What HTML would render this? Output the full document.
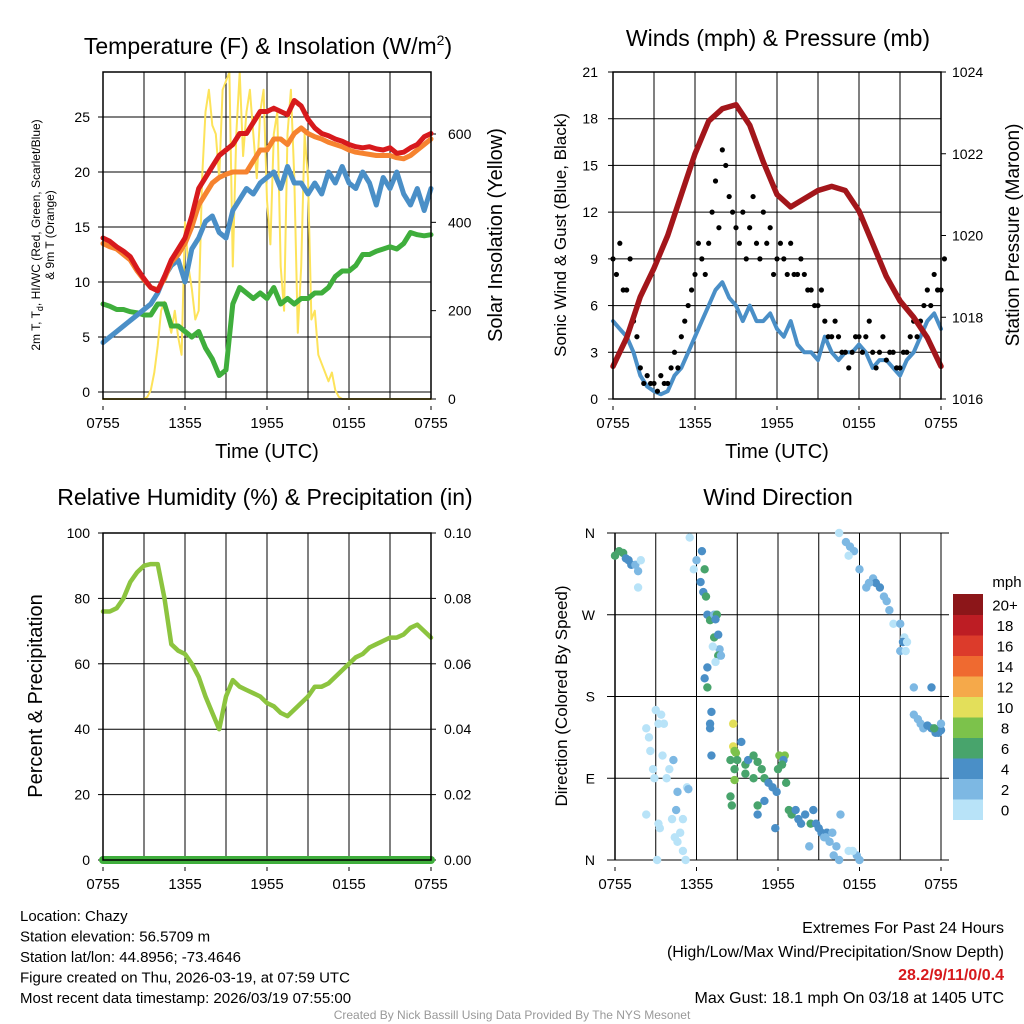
<!DOCTYPE html>
<html><head><meta charset="utf-8"><style>
body{margin:0;background:#fff;}
svg{display:block;font-family:"Liberation Sans",sans-serif;}
</style></head><body>
<svg id="c" width="1024" height="1024" viewBox="0 0 1024 1024" xmlns="http://www.w3.org/2000/svg">
<rect width="1024" height="1024" fill="#fff"/>
<g id="g"></g>
</svg>
<script>
// ---------- data (0.5 h steps from 0755 UTC unless noted) ----------
const timeLabels = ["0755","1355","1955","0155","0755"];
const tempRed = [14,13.7,13.2,12.8,12.3,11.2,10.3,9.5,9.2,10.5,12,13,14,16,18.5,19.5,20.5,21.5,22,22.5,23.5,23.5,24.5,25.5,25.5,25.8,25.5,25.2,26.5,26,24.8,24,23.5,23.3,23,22.8,22.5,22.3,22.2,22.3,22.1,22,22.2,21.7,21.8,22.2,22.5,23.2,23.5];
const tempOrange = [13.5,13.2,13,12.5,12,11,10.2,9.5,9.3,10.3,11.8,12.5,13.5,15,17,18,19,19.5,19.8,20,20,20,21,22,22,23,23,22.5,23.5,24,23.5,23.2,23,22.7,22.5,22.3,22,21.8,21.7,21.6,21.5,21.5,21.5,21.3,21.2,21.5,22,22.5,23];
const tempBlue = [4.5,5,5.5,6,6.5,7,7.5,8,9,10.5,11.5,12,10,13,14,15.5,16,14.5,14,16.5,17.5,18.5,18,19,19.5,20,18.5,20.5,19,19,18,19,18,20,19,20.5,19,18.5,20,19,17,19.5,18.5,20,18,17,18.5,16.5,18.5];
const tempGreen = [8,7.8,7.5,7.5,7.3,7.2,7,7,8,8,6,6,5.5,5,5.5,4,3,1.5,2,8,9.5,9,8.5,9,8.5,9.5,8,8.5,8,8.5,8.5,9,9,9.5,10.5,11,11,11.5,12.5,12.5,12.8,13,13.2,13,13.5,14.5,14.3,14.2,14.3];
// solar insolation, 0.25 h steps
const solar = [0,0,0,0,0,0,0,0,0,0,0,0,0,5,20,60,120,200,220,180,150,200,140,100,400,300,250,180,200,500,650,700,620,600,500,700,720,740,300,600,740,550,650,700,600,500,650,700,450,350,600,650,300,200,600,700,500,150,300,600,500,180,200,100,80,60,40,60,20,5,0,0,0,0,0,0,0,0,0,0,0,0,0,0,0,0,0,0,0,0,0,0,0,0,0,0,0];
// pressure, hourly
const pressure = [1016.8,1017.5,1018.5,1019.2,1020,1021,1022,1022.8,1023.1,1023.2,1022.7,1021.8,1021,1020.7,1020.9,1021.1,1021.2,1021.1,1020.6,1019.8,1019,1018.4,1018,1017.5,1016.8];
const windSpeed = [5,4.5,4,3,1.5,0.8,0.5,0.3,0.5,1.5,2,3,4,5,6,7,7.5,6.5,6,5,6,5,5,5.5,4.5,4,5,3.5,3,3,2.5,4,3,2.5,3,3,3.5,3,2,2.5,2.5,2,1.5,2.5,3,4,5,5.5,4.5];
const gustA = [9,10,7,5,2,1.5,1,1.5,1,3,4,6,8,9,10,14,16,13,11,12,11,10,12,11,9,9,10,8,8,7,6,5,4,4,3,3,4,4,3,3,2.5,3,2,3,5,5,7,8,7];
const gustB = [8,7,9,4,1,1,0.5,1,2,2,5,7,10,8,12,11,15,12,10,9,13,9,10,8,10,8,8,9,7,6,7,4,5,3,2,4,3,5,2,4,3,2,3,4,4,6,6,7,9];
const rh = [76,76,77,80,85,88,90,90.5,90.5,80,66,64,63,60,56,50,45,40,50,55,53,52,51,50,48,47,45,44,46,48,50,53,53,54,56,58,60,62,63,65,66,67,68,68,69,71,72,70,68];
const precip = [0,0,0,0,0,0,0,0,0,0,0,0,0,0,0,0,0,0,0,0,0,0,0,0,0];
// wind direction scatter: hours since 0755, degrees, speed bin
const dirTime = [0,0.3,0.6,0.8,1,1.2,1.5,1.7,1.7,1.9,2.3,2.5,2.6,2.8,2.9,3,3.2,3.4,3.6,3.5,2.3,3.8,4,4.3,3.1,3.2,3.3,4.2,4.4,4.6,5,5.2,4.8,5,4.5,4.6,5.3,5.4,5.5,6,6.4,5.8,6.6,6.3,6.5,6.7,6.8,7,7.3,7.5,7.4,7.3,7.6,7.7,7.2,7.6,7.4,7.8,6.8,6.6,6.8,7.1,7,7,7.1,8.7,8.7,8.8,8.9,9,9.3,8.5,8.8,8.8,8.5,8.6,9.6,9.8,10.2,10.5,10.8,9.6,10.2,10.5,11,11.3,11.6,11,10.5,11.8,11.9,12,12.1,12.5,12.4,12.3,12.6,12.8,13,13.3,13.5,13.7,14,14.4,14.6,14.8,15,15.2,15.4,15.6,15.8,16,16.3,16.6,16.1,16.5,17.2,17.8,17.5,18,15.5,14.3,16.5,17,17.3,17.6,17.2,18,19,19.5,19.2,18.5,18.7,19.8,20,20.2,20.5,21,21.3,21,21.2,21.5,21.4,22,22,22.3,22.5,22.7,23,23.3,23.6,23.8,24,23.5,23.3,24];
const dirDeg = [335,340,338,332,330,325,325,318,300,330,145,135,120,100,90,165,150,160,150,115,50,90,100,110,0,40,35,45,25,20,10,0,30,45,55,75,80,78,355,330,340,320,320,306,295,290,270,264,270,270,265,245,248,232,235,225,218,225,212,200,190,163,150,145,115,150,125,120,118,110,130,110,100,88,70,60,105,110,115,108,100,95,90,60,90,85,80,65,50,35,75,100,115,115,110,105,85,55,50,55,45,40,50,40,55,40,35,30,25,30,20,30,15,50,5,0,10,5,10,0,25,15,360,350,345,340,335,320,310,300,305,300,305,290,285,275,260,260,245,230,240,240,230,190,160,155,150,145,148,145,140,140,143,145,190,150];
const dirSpeed = [6,6,6,5,4,4,2,2,1,1,0,0,0,0,0,0,0,0,0,0,0,0,1,2,0,0,0,1,1,1,1,1,1,1,2,2,1,2,1,3,4,1,6,4,4,6,4,6,2,6,4,6,4,2,1,6,1,2,4,4,6,4,4,4,4,10,10,8,8,6,4,6,6,8,6,6,6,4,6,6,6,6,6,6,6,4,4,4,4,4,4,6,8,8,4,6,6,6,6,4,4,4,4,6,4,4,4,4,2,4,2,2,2,2,2,2,1,2,1,2,2,2,0,2,2,2,0,2,2,4,4,2,2,2,2,2,0,2,1,2,4,1,1,2,2,2,2,2,4,4,4,4,4,6,4,2];
const speedBinLabels = ["0","2","4","6","8","10","12","14","16","18","20+"];
const speedColors = ["#b8e3f8","#7db8e3","#4a8fc7","#48a46c","#7cc24b","#e3df5a","#f5a94a","#ef6a30","#dc3b2b","#bd1d24","#8c1619"];

// ---------- helpers ----------
const NS="http://www.w3.org/2000/svg";
const root=document.getElementById('g');
function mk(tag,attrs,parent){const e=document.createElementNS(NS,tag);for(const k in attrs)e.setAttribute(k,attrs[k]);(parent||root).appendChild(e);return e;}
function txt(s,x,y,size,anchor,parent,extra){const e=mk('text',Object.assign({x:x,y:y,'font-size':size,'text-anchor':anchor||'middle',fill:'#000'},extra||{}),parent);e.textContent=s;return e;}
function lin(d0,d1,r0,r1){return v=>r0+(v-d0)*(r1-r0)/(d1-d0);}

function frame(L,T,R,B,name){
  const g=mk('g',{});
  
  
  // vertical grid every 3h
  for(let i=1;i<8;i++){const x=L+(R-L)*i/8;mk('line',{x1:x,y1:T,x2:x,y2:B,stroke:'#000','stroke-width':1},g);}
  return g;
}
function border(L,T,R,B,g){mk('rect',{x:L,y:T,width:R-L,height:B-T,fill:'none',stroke:'#000','stroke-width':1.5},g);}
function xlabels(L,R,y,g){
  timeLabels.forEach((s,i)=>{const x=L+(R-L)*i/4;
    mk('line',{x1:x,y1:y-12,x2:x,y2:y-8,stroke:'#000'},g);
    const t=txt(s,x,y+10,15,'middle',g);
    
    });
}
function path(xs,ys,color,w,g,name){
  let d='';xs.forEach((x,i)=>{d+=(i?'L':'M')+x.toFixed(1)+','+ys[i].toFixed(1);});
  const p=mk('path',{d:d,fill:'none',stroke:color,'stroke-width':w,'stroke-linejoin':'round','stroke-linecap':'round'},g);
  
  
  return p;
}

// ---------- Panel 1 ----------
(function(){
  const L=103,T=72,R=431,B=399;
  const X=lin(0,24,L,R), Y=lin(0,25,392,117), Y2=lin(0,600,399,134);
  const g=frame(L,T,R,B,'temperature-panel');
  [0,5,10,15,20,25].forEach(v=>{const y=Y(v);mk('line',{x1:L,y1:y,x2:R,y2:y,stroke:'#000'},g);
    mk('line',{x1:L-5,y1:y,x2:L,y2:y,stroke:'#000'},g);
    const t=txt(String(v),L-13,y+5,14,'end',g);
    
    });
  [0,200,400,600].forEach(v=>{const y=Y2(v);mk('line',{x1:R,y1:y,x2:R+5,y2:y,stroke:'#000'},g);
    const t=txt(String(v),R+17,y+5,14,'start',g);
    
    });
  const xs=tempRed.map((_,i)=>X(i*0.5));
  path(solar.map((_,i)=>X(i*0.25)),solar.map(v=>Y2(v)),'#fde35a',2,g,'solar-insolation-line');
  path(xs,tempGreen.map(Y),'#3fae3c',5,g,'dewpoint-line');
  path(xs,tempBlue.map(Y),'#4a8fc7',5,g,'heat-index-line');
  path(xs,tempOrange.map(Y),'#f6832f',5,g,'temp-9m-line');
  path(xs,tempRed.map(Y),'#d7191c',5,g,'temp-2m-line');
  border(L,T,R,B,g);
  xlabels(L,R,418,g);
  const t1=txt('Time (UTC)',267,458,20,'middle',g);
  
  const tt=mk('text',{x:268,y:54,'font-size':23,'text-anchor':'middle'},g);
  tt.innerHTML='Temperature (F) &amp; Insolation (W/m<tspan dy="-9" font-size="14">2</tspan><tspan dy="9">)</tspan>';
  
  const yl=mk('text',{'font-size':12,'text-anchor':'middle',transform:'translate(40,235) rotate(-90)'},g);
  yl.innerHTML='2m T, T<tspan dy="3" font-size="9">d</tspan><tspan dy="-3">, HI/WC (Red, Green, Scarlet/Blue)</tspan>';
  
  const yl2=txt('& 9m T (Orange)',0,0,12,'middle',g,{transform:'translate(54,235) rotate(-90)'});
  
  const yr=txt('Solar Insolation (Yellow)',0,0,20,'middle',g,{transform:'translate(502,235) rotate(-90)'});
  
})();

// ---------- Panel 2 ----------
(function(){
  const L=613,T=72,R=941,B=399;
  const X=lin(0,24,L,R), Y=lin(0,21,B,T), Y2=lin(1016,1024,B,T);
  const g=frame(L,T,R,B,'winds-panel');
  [0,3,6,9,12,15,18,21].forEach(v=>{const y=Y(v);mk('line',{x1:L,y1:y,x2:R,y2:y,stroke:'#000'},g);
    mk('line',{x1:L-5,y1:y,x2:L,y2:y,stroke:'#000'},g);
    const t=txt(String(v),L-15,y+5,14,'end',g);
    });
  [1016,1018,1020,1022,1024].forEach(v=>{const y=Y2(v);mk('line',{x1:R,y1:y,x2:R+5,y2:y,stroke:'#000'},g);
    const t=txt(String(v),R+11,y+5,14,'start',g);
    });
  const xs=windSpeed.map((_,i)=>X(i*0.5));
  path(xs,windSpeed.map(Y),'#4a8fc7',4,g,'wind-speed-line');
  [gustA,gustB].forEach((arr,k)=>arr.forEach((v,i)=>{
    const c=mk('circle',{cx:X(i*0.5+k*0.25),cy:Y(v),r:2.6,fill:'#000'},g);
    
    }));
  path(pressure.map((_,i)=>X(i)),pressure.map(Y2),'#a3161b',5.5,g,'pressure-line');
  border(L,T,R,B,g);
  xlabels(L,R,418,g);
  const t1=txt('Time (UTC)',777,458,20,'middle',g);
  
  const tt=txt('Winds (mph) & Pressure (mb)',778,46,23,'middle',g);
  
  const yl=txt('Sonic Wind & Gust (Blue, Black)',0,0,17,'middle',g,{transform:'translate(566,235) rotate(-90)'});
  
  const yr=txt('Station Pressure (Maroon)',0,0,19,'middle',g,{transform:'translate(1019,235) rotate(-90)'});
  
})();

// ---------- Panel 3 ----------
(function(){
  const L=103,T=533,R=431,B=860;
  const X=lin(0,24,L,R), Y=lin(0,100,B,T), Y2=lin(0,0.1,B,T);
  const g=frame(L,T,R,B,'humidity-panel');
  [0,20,40,60,80,100].forEach(v=>{const y=Y(v);mk('line',{x1:L,y1:y,x2:R,y2:y,stroke:'#000'},g);
    mk('line',{x1:L-5,y1:y,x2:L,y2:y,stroke:'#000'},g);
    const t=txt(String(v),L-13,y+5,14,'end',g);
    });
  [0,0.02,0.04,0.06,0.08,0.1].forEach(v=>{const y=Y2(v);mk('line',{x1:R,y1:y,x2:R+5,y2:y,stroke:'#000'},g);
    const t=txt(v.toFixed(2),R+13,y+5,14,'start',g);
    });
  path(rh.map((_,i)=>X(i*0.5)),rh.map(Y),'#8cc43f',4.5,g,'humidity-line');
  path(precip.map((_,i)=>X(i)),precip.map(Y2),'#3fae3c',8,g,'precipitation-line');
  border(L,T,R,B,g);
  xlabels(L,R,879,g);
  const tt=txt('Relative Humidity (%) & Precipitation (in)',265,505,23,'middle',g);
  
  const yl=txt('Percent & Precipitation',0,0,20,'middle',g,{transform:'translate(42,696) rotate(-90)'});
  
})();

// ---------- Panel 4 ----------
(function(){
  const L=615,T=533,R=941,B=860;
  const X=lin(0,24,L,R), Y=lin(0,360,B,T);
  const g=frame(L,T,R,B,'wind-direction-panel');
  const dirLabels=["N","E","S","W","N"];
  dirLabels.forEach((s,i)=>{const y=Y(i*90);mk('line',{x1:L-8,y1:y,x2:R+8,y2:y,stroke:'#000'},g);
    const t=txt(s,L-20,y+5,14,'end',g);
    });
  mk('line',{x1:L,y1:T,x2:L,y2:B,stroke:'#000','stroke-width':1.5},g);
  mk('line',{x1:R,y1:T,x2:R,y2:B,stroke:'#000','stroke-width':1},g);
  dirTime.forEach((t,i)=>{
    const b=Math.min(10,Math.floor(dirSpeed[i]/2));
    const c=mk('circle',{cx:X(t),cy:Y(dirDeg[i]),r:4.2,fill:speedColors[b]},g);
    
    });
  xlabels(L,R,879,g);
  const tt=txt('Wind Direction',778,505,23,'middle',g);
  
  const yl=txt('Direction (Colored By Speed)',0,0,17,'middle',g,{transform:'translate(567,696) rotate(-90)'});
  
  // colorbar
  const cb=mk('g',{},g);
  
  
  const h=20.5, top=594;
  speedColors.forEach((col,i)=>{const y=top+(10-i)*h;
    mk('rect',{x:953,y:y,width:30,height:h+0.5,fill:col},cb);
    const t=txt(speedBinLabels[i],1005,y+h/2+6,15,'middle',cb);
    });
  const u=txt('mph',1007,587,15,'middle',cb);
  
})();

// ---------- footer text ----------
(function(){
  const g=mk('g',{});
  
  
  ["Location: Chazy","Station elevation: 56.5709 m","Station lat/lon: 44.8956; -73.4646","Figure created on Thu, 2026-03-19, at 07:59 UTC","Most recent data timestamp: 2026/03/19 07:55:00"].forEach((s,i)=>txt(s,20,921+i*20.5,15,'start',g));
  const g2=mk('g',{});
  
  
  txt('Extremes For Past 24 Hours',1004,933,16,'end',g2);
  txt('(High/Low/Max Wind/Precipitation/Snow Depth)',1004,957,16,'end',g2);
  txt('28.2/9/11/0/0.4',1004,980,16,'end',g2,{fill:'#d7191c','font-weight':'bold'});
  txt('Max Gust: 18.1 mph On 03/18 at 1405 UTC',1004,1003,16,'end',g2);
  const c=txt('Created By Nick Bassill Using Data Provided By The NYS Mesonet',512,1019,12,'middle');
  c.setAttribute('fill','#999');
  
  
})();
</script>
</body></html>
